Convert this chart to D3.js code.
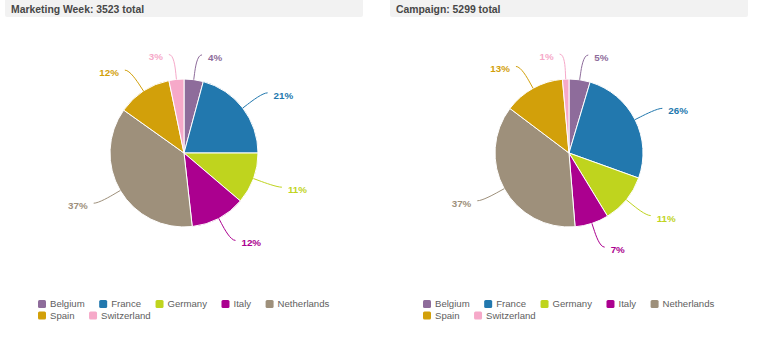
<!DOCTYPE html>
<html>
<head>
<meta charset="utf-8">
<script src="https://cdn.jsdelivr.net/npm/d3@7"></script>
<style>
  html, body { margin: 0; padding: 0; background: #fff; }
  svg { display: block; font-family: "Liberation Sans", Arial, Helvetica, sans-serif; }
</style>
</head>
<body>
<svg id="chart" width="765" height="339"></svg>
<script>
const categories = ["Belgium", "France", "Germany", "Italy", "Netherlands", "Spain", "Switzerland"];
const colors = ["#8e6c9b", "#2278ae", "#bfd41e", "#ab008f", "#9e907b", "#d2a00a", "#f6a9c9"];
const titles = ["Marketing Week", "Campaign"];
const marketingWeek = [148, 733, 395, 423, 1290, 419, 115];
const campaign = [244, 1372, 572, 392, 1939, 705, 75];
const seriesValues = [marketingWeek, campaign];

const svg = d3.select("#chart");
const panelW = 385;
const r = 74;
const labelDist = 25;

seriesValues.forEach((vals, pi) => {
  const ox = pi * panelW;
  const total = d3.sum(vals);
  const g = svg.append("g").attr("transform", `translate(${ox},0)`);

  // header
  g.append("rect").attr("x", 5).attr("y", -3).attr("width", 358).attr("height", 20)
    .attr("rx", 2).attr("fill", "#f2f2f2");
  g.append("text").attr("x", 11).attr("y", 12.5)
    .attr("font-size", "10.4px").attr("font-weight", "bold").attr("fill", "#474747")
    .text(`${titles[pi]}: ${total} total`);

  const cx = 184, cy = 153;
  const data = categories.map((c, i) => ({ name: c, value: vals[i], color: colors[i] }));
  const pie = d3.pie().sort(null).value(d => d.value);
  const arcs = pie(data);
  const arc = d3.arc().innerRadius(0).outerRadius(r);

  const pg = g.append("g").attr("transform", `translate(${cx},${cy})`);
  pg.selectAll("path.slice").data(arcs).enter().append("path")
    .attr("class", "slice")
    .attr("d", arc)
    .attr("fill", d => d.data.color)
    .attr("stroke", "#fff").attr("stroke-width", 1).attr("stroke-linejoin", "round");

  const R = r + labelDist;
  arcs.forEach(a => {
    const th = (a.startAngle + a.endAngle) / 2;
    const s = Math.sin(th), c = Math.cos(th);
    const right = s >= 0;
    const sign = right ? 1 : -1;
    const ly = -R * c;
    const lx = R * s + sign * 5;
    const tx = r * s, ty = -r * c;
    const bx = (r + 6) * s, by = -(r + 6) * c;
    const path = `M${lx},${ly} C${lx - sign * 5},${ly} ${2 * bx - tx},${2 * by - ty} ${bx},${by} L${tx},${ty}`;
    pg.append("path").attr("d", path).attr("fill", "none")
      .attr("stroke", a.data.color).attr("stroke-width", 1);
    pg.append("text")
      .attr("x", lx + sign * 6).attr("y", ly + 2.5)
      .attr("dy", "0.35em")
      .attr("text-anchor", right ? "start" : "end")
      .attr("font-size", "9.8px").attr("font-weight", "bold")
      .attr("fill", a.data.color)
      .text(Math.round(a.data.value / total * 100) + "%");
  });

  // legend
  const lg = g.append("g");
  let x = 38, row = 0;
  const gap = 14.5;
  data.forEach((d, i) => {
    const item = lg.append("g");
    const t = item.append("text").attr("font-size", "9.6px").attr("fill", "#606060").text(d.name);
    const w = t.node().getComputedTextLength();
    if (i === 5) { x = 38; row = 1; }
    const yc = 304 + row * 11.5;
    item.insert("rect", "text").attr("x", x).attr("y", yc - 4).attr("width", 8).attr("height", 8)
      .attr("rx", 1.5).attr("fill", d.color);
    t.attr("x", x + 12).attr("y", yc).attr("dy", "0.35em");
    x += 12 + w + gap;
  });
});
</script>
</body>
</html>
